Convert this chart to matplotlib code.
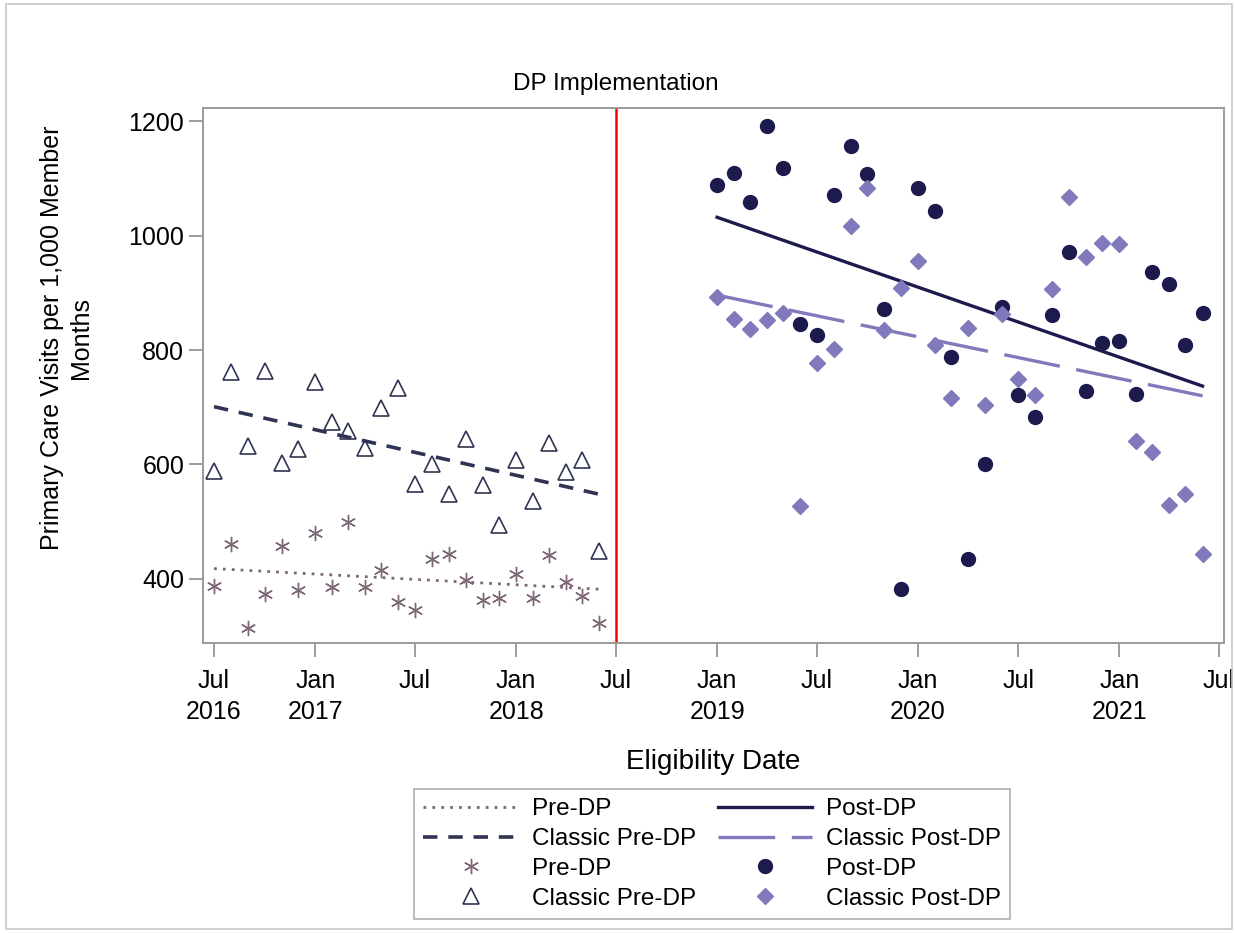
import matplotlib.pyplot as plt
from matplotlib.lines import Line2D
from matplotlib.patches import Rectangle
import numpy as np
import pandas as pd

plt.rcParams['font.family'] = ['Liberation Sans', 'DejaVu Sans']

# monthly rates, pre period Jul 2016 - Jun 2018, post period Jan 2019 - Jun 2021
pre_months = pd.date_range('2016-07-01', periods=24, freq='MS')
post_months = pd.date_range('2019-01-01', periods=30, freq='MS')

pre_dp = [387, 461, 315, 373, 458, 381, 481, 385, 500, 385, 416, 360,
          346, 435, 443, 398, 363, 367, 408, 367, 442, 395, 371, 323]
classic_pre_dp = [589, 761, 632, 763, 602, 627, 745, 674, 659, 629, 698, 733,
                  566, 600, 548, 644, 564, 494, 608, 536, 637, 586, 607, 449]
post_dp = [1088, 1110, 1058, 1191, 1119, 845, 827, 1071, 1156, 1107, 872, 383,
           1084, 1043, 788, 434, 600, 876, 721, 683, 862, 972, 729, 813,
           815, 723, 936, 916, 808, 864]
classic_post_dp = [892, 854, 836, 852, 865, 528, 778, 801, 1017, 1084, 835, 909,
                   955, 809, 716, 838, 704, 863, 750, 721, 907, 1068, 963, 987,
                   985, 641, 622, 530, 548, 443]

# fitted trend values at the first and last month of each period
pre_fit = [418, 382]
classic_pre_fit = [701, 548]
post_fit = [1032, 737]
classic_post_fit = [896, 720]

implementation = pd.Timestamp('2018-07-01')
tick_dates = pd.date_range('2016-07-01', '2021-07-01', freq='6MS')
tick_labels = ['Jul\n2016', 'Jan\n2017', 'Jul', 'Jan\n2018', 'Jul', 'Jan\n2019',
               'Jul', 'Jan\n2020', 'Jul', 'Jan\n2021', 'Jul']

c_pre = '#7d6676'
c_cpre = '#2f3452'
c_post = '#1d1b4e'
c_cpost = '#8079bb'

W, H = 1235, 933
fig = plt.figure(figsize=(W / 100, H / 100), dpi=100)
fig.patches.append(Rectangle((6 / W, 4 / H), 1 - 9 / W, 1 - 8 / H, transform=fig.transFigure,
                             fill=False, edgecolor='#c8c8c8', linewidth=1.2))
ax = fig.add_axes([203 / W, 1 - 643 / H, (1224 - 203) / W, (643 - 108) / H])

pre_ends = [pre_months[0], pre_months[-1]]
post_ends = [post_months[0], post_months[-1]]

ax.plot(pre_ends, pre_fit, linestyle=(0, (1, 2.2)), color=c_pre, lw=2)
ax.plot(pre_ends, classic_pre_fit, linestyle=(0, (4, 3)), color=c_cpre, lw=2.6)
ax.plot(post_ends, post_fit, linestyle='-', color=c_post, lw=2.4)
ax.plot(post_ends, classic_post_fit, linestyle=(0, (17, 5)), color=c_cpost, lw=2.4)

ax.plot(pre_months, pre_dp, linestyle='none', marker=(6, 2, 0), markersize=11,
        markeredgecolor=c_pre, markeredgewidth=1.0)
ax.plot(pre_months, classic_pre_dp, linestyle='none', marker='^', markersize=12,
        markerfacecolor='none', markeredgecolor=c_cpre, markeredgewidth=1.2)
ax.plot(post_months, post_dp, linestyle='none', marker='o', markersize=10,
        color=c_post)
ax.plot(post_months, classic_post_dp, linestyle='none', marker='D', markersize=8.5,
        color=c_cpost)

ax.axvline(implementation, color='#ff0000', lw=1.8)
ax.text(implementation, 1.025, 'DP Implementation', transform=ax.get_xaxis_transform(),
        ha='center', va='bottom', fontsize=17.5)

ax.set_xlim(pd.Timestamp('2016-06-11'), pd.Timestamp('2021-07-10'))
ax.set_ylim(288, 1223)
ax.set_xticks(tick_dates)
ax.set_xticklabels(tick_labels, linespacing=1.35)
ax.set_yticks([400, 600, 800, 1000, 1200])
ax.tick_params(axis='both', labelsize=18, length=10, width=1.2, color='#8c8c8c')
ax.tick_params(axis='x', pad=9)
for s in ax.spines.values():
    s.set_color('#9a9a9a')
    s.set_linewidth(1.4)

ax.set_xlabel('Eligibility Date', fontsize=20, labelpad=18)
ax.set_ylabel('Primary Care Visits per 1,000 Member\nMonths', fontsize=18, linespacing=1.25)
ax.yaxis.set_label_coords(-0.108, 0.57)

handles = [
    Line2D([], [], linestyle=(0, (1, 2.2)), color=c_pre, lw=2),
    Line2D([], [], linestyle=(0, (4, 3)), color=c_cpre, lw=2.6),
    Line2D([], [], linestyle='none', marker=(6, 2, 0), markersize=11,
           markeredgecolor=c_pre, markeredgewidth=1.0),
    Line2D([], [], linestyle='none', marker='^', markersize=12,
           markerfacecolor='none', markeredgecolor=c_cpre, markeredgewidth=1.2),
    Line2D([], [], linestyle='-', color=c_post, lw=2.4),
    Line2D([], [], linestyle=(0, (17, 5)), color=c_cpost, lw=2.4),
    Line2D([], [], linestyle='none', marker='o', markersize=10, color=c_post),
    Line2D([], [], linestyle='none', marker='D', markersize=8.5, color=c_cpost),
]
labels = ['Pre-DP', 'Classic Pre-DP', 'Pre-DP', 'Classic Pre-DP',
          'Post-DP', 'Classic Post-DP', 'Post-DP', 'Classic Post-DP']
leg = fig.legend(handles, labels, ncol=2, loc='center',
                 bbox_to_anchor=(712 / W, 1 - 854 / H), fontsize=17.5,
                 handlelength=3.9, handletextpad=0.55, columnspacing=0.9,
                 labelspacing=0.32, borderpad=0.4, frameon=True, fancybox=False)
leg.get_frame().set_edgecolor('#9a9a9a')
leg.get_frame().set_linewidth(1.2)

fig.savefig('out.png', dpi=100)
